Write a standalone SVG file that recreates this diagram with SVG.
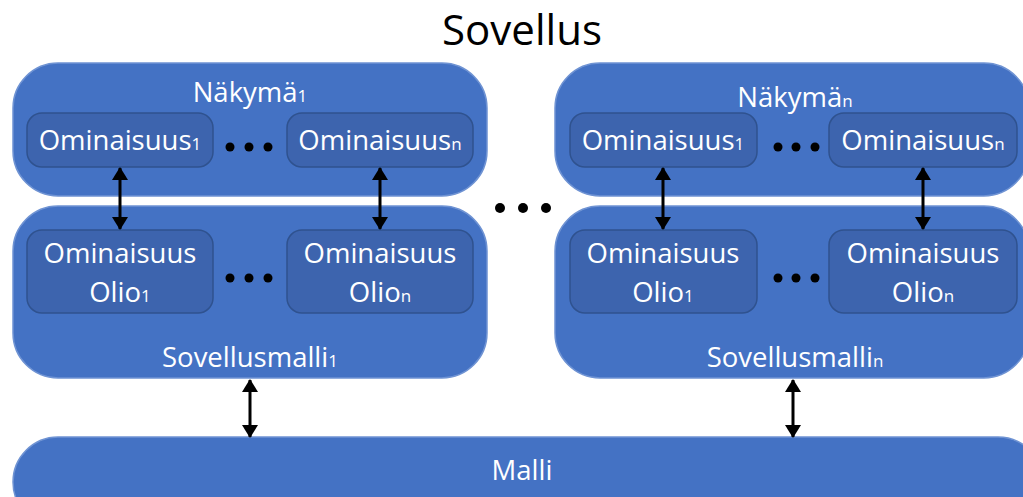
<svg xmlns="http://www.w3.org/2000/svg" width="1023" height="497" viewBox="0 0 1023 497">
  <defs>
    <marker id="ah" viewBox="0 0 13 16" refX="12" refY="8" markerWidth="13" markerHeight="16" markerUnits="userSpaceOnUse" orient="auto-start-reverse">
      <path d="M0,0 L13,8 L0,16 Z" fill="#000"/>
    </marker>
  </defs>
  <style>
    .outer { fill: #4472C4; stroke: #6F93D3; stroke-width: 1.5; }
    .inner { fill: #3D64AE; stroke: #2F528F; stroke-width: 1.5; }
    .lbl { font-family: "Open Sans", "Liberation Sans", sans-serif; fill: #fff; text-anchor: middle; }
    .big { font-size: 27.5px; }
    .sub { font-size: 17px; }
    .title { font-family: "Open Sans", "Liberation Sans", sans-serif; font-size: 42px; fill: #000; text-anchor: middle; }
    .conn { stroke: #000; stroke-width: 3; fill: none; marker-start: url(#ah); marker-end: url(#ah); }
    .dot { fill: #000; }
  </style>

  <rect width="1023" height="497" fill="#fff"/>

  <text class="title" x="522" y="45">Sovellus</text>

  <!-- view 1 -->
  <g id="nakyma1">
    <rect class="outer" x="13" y="63" width="474" height="133" rx="45"/>
    <text class="lbl big" x="250" y="102">Näkymä<tspan class="sub">1</tspan></text>
    <rect class="inner" x="27" y="113" width="186" height="54" rx="15"/>
    <text class="lbl big" x="120" y="150">Ominaisuus<tspan class="sub">1</tspan></text>
    <rect class="inner" x="287" y="113" width="186" height="54" rx="15"/>
    <text class="lbl big" x="380" y="150">Ominaisuus<tspan class="sub">n</tspan></text>
    <circle class="dot" cx="230" cy="147" r="4.5"/>
    <circle class="dot" cx="249" cy="147" r="4.5"/>
    <circle class="dot" cx="268" cy="147" r="4.5"/>
  </g>

  <!-- application model 1 -->
  <g id="sovellusmalli1">
    <rect class="outer" x="13" y="206" width="474" height="172" rx="45"/>
    <rect class="inner" x="27" y="230" width="186" height="83" rx="15"/>
    <text class="lbl big" x="120" y="263">Ominaisuus</text>
    <text class="lbl big" x="120" y="302">Olio<tspan class="sub">1</tspan></text>
    <rect class="inner" x="287" y="230" width="186" height="83" rx="15"/>
    <text class="lbl big" x="380" y="263">Ominaisuus</text>
    <text class="lbl big" x="380" y="302">Olio<tspan class="sub">n</tspan></text>
    <circle class="dot" cx="230" cy="278" r="4.5"/>
    <circle class="dot" cx="249" cy="278" r="4.5"/>
    <circle class="dot" cx="268" cy="278" r="4.5"/>
    <text class="lbl big" x="250" y="367">Sovellusmalli<tspan class="sub">1</tspan></text>
  </g>

  <!-- view n -->
  <g id="nakyman">
    <rect class="outer" x="555" y="63" width="474" height="133" rx="45"/>
    <text class="lbl big" x="795" y="107">Näkymä<tspan class="sub">n</tspan></text>
    <rect class="inner" x="570" y="113" width="187" height="54" rx="15"/>
    <text class="lbl big" x="663" y="150">Ominaisuus<tspan class="sub">1</tspan></text>
    <rect class="inner" x="829" y="113" width="188" height="54" rx="15"/>
    <text class="lbl big" x="923" y="150">Ominaisuus<tspan class="sub">n</tspan></text>
    <circle class="dot" cx="778" cy="147" r="4.5"/>
    <circle class="dot" cx="796" cy="147" r="4.5"/>
    <circle class="dot" cx="815" cy="147" r="4.5"/>
  </g>

  <!-- application model n -->
  <g id="sovellusmallin">
    <rect class="outer" x="555" y="206" width="474" height="172" rx="45"/>
    <rect class="inner" x="570" y="230" width="187" height="83" rx="15"/>
    <text class="lbl big" x="663" y="263">Ominaisuus</text>
    <text class="lbl big" x="663" y="302">Olio<tspan class="sub">1</tspan></text>
    <rect class="inner" x="829" y="230" width="188" height="83" rx="15"/>
    <text class="lbl big" x="923" y="263">Ominaisuus</text>
    <text class="lbl big" x="923" y="302">Olio<tspan class="sub">n</tspan></text>
    <circle class="dot" cx="778" cy="278" r="4.5"/>
    <circle class="dot" cx="796" cy="278" r="4.5"/>
    <circle class="dot" cx="815" cy="278" r="4.5"/>
    <text class="lbl big" x="795" y="367">Sovellusmalli<tspan class="sub">n</tspan></text>
  </g>

  <!-- ellipsis between the two columns -->
  <g id="valiin">
    <circle class="dot" cx="500" cy="208" r="5"/>
    <circle class="dot" cx="523" cy="208" r="5"/>
    <circle class="dot" cx="546" cy="208" r="5"/>
  </g>

  <!-- model -->
  <g id="malli">
    <rect class="outer" x="13" y="437" width="1030" height="90" rx="45"/>
    <text class="lbl big" x="522" y="480">Malli</text>
  </g>

  <!-- two-way connectors -->
  <g id="connectors">
    <line class="conn" x1="120" y1="168" x2="120" y2="229"/>
    <line class="conn" x1="380" y1="168" x2="380" y2="229"/>
    <line class="conn" x1="663" y1="168" x2="663" y2="229"/>
    <line class="conn" x1="923" y1="168" x2="923" y2="229"/>
    <line class="conn" x1="250" y1="380" x2="250" y2="437"/>
    <line class="conn" x1="793" y1="380" x2="793" y2="437"/>
  </g>
</svg>
